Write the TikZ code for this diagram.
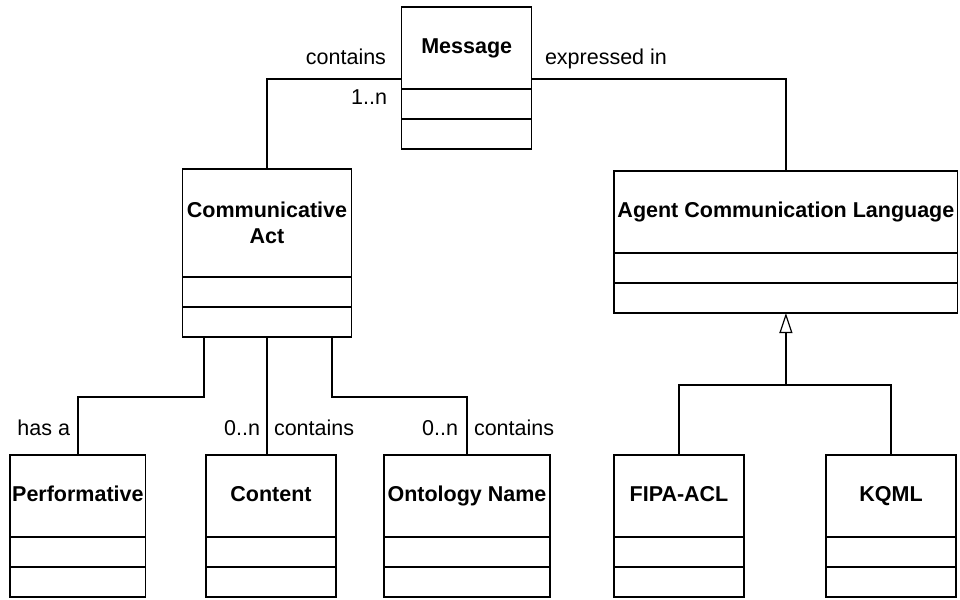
\documentclass[tikz,border=0pt]{standalone}
\usepackage{fontspec}
\setmainfont{Liberation Sans}
\usetikzlibrary{arrows.meta}
\newcommand{\diagfont}{\fontsize{21.5}{26}\selectfont}
\tikzset{
  hdr/.style={draw, line width=1.2pt, inner sep=0pt, outer sep=0pt, font=\diagfont\bfseries, align=center, minimum height=82pt},
  oneline/.style={text height=15.5pt, text depth=4.5pt},
  cmp/.style={draw, line width=1.2pt, inner sep=0pt, outer sep=0pt, minimum height=30pt, anchor=north},
  lbl/.style={inner sep=0pt, outer sep=0pt, font=\diagfont},
  conn/.style={line width=1.2pt},
  genarrow/.style={line width=1.2pt, -{Triangle[open, length=20pt, width=13pt]}},
}
\begin{document}
\begin{tikzpicture}[x=1pt, y=-1pt]
\useasboundingbox (0,0) rectangle (960,599);

% Message
\node[hdr, oneline, minimum width=130pt] (msg) at (466.7,48) {Message};
\node[cmp, minimum width=130pt] (msg1) at (msg.south) {};
\node[cmp, minimum width=130pt] (msg2) at (msg1.south) {};

% Communicative Act
\node[hdr, minimum width=169.4pt, minimum height=108pt] (ca) at (267,223) {Communicative\\Act};
\node[cmp, minimum width=169.4pt] (ca1) at (ca.south) {};
\node[cmp, minimum width=169.4pt] (ca2) at (ca1.south) {};

% Agent Communication Language
\node[hdr, oneline, minimum width=343.7pt] (acl) at (785.9,212) {Agent Communication Language};
\node[cmp, minimum width=343.7pt] (acl1) at (acl.south) {};
\node[cmp, minimum width=343.7pt] (acl2) at (acl1.south) {};

% Bottom row
\node[hdr, oneline, minimum width=135.7pt] (perf) at (77.9,496) {Performative};
\node[cmp, minimum width=135.7pt] (perf1) at (perf.south) {};
\node[cmp, minimum width=135.7pt] (perf2) at (perf1.south) {};

\node[hdr, oneline, minimum width=130pt] (cont) at (271,496) {Content};
\node[cmp, minimum width=130pt] (cont1) at (cont.south) {};
\node[cmp, minimum width=130pt] (cont2) at (cont1.south) {};

\node[hdr, oneline, minimum width=166pt] (ont) at (467,496) {Ontology Name};
\node[cmp, minimum width=166pt] (ont1) at (ont.south) {};
\node[cmp, minimum width=166pt] (ont2) at (ont1.south) {};

\node[hdr, oneline, minimum width=130pt] (fipa) at (679,496) {FIPA-ACL};
\node[cmp, minimum width=130pt] (fipa1) at (fipa.south) {};
\node[cmp, minimum width=130pt] (fipa2) at (fipa1.south) {};

\node[hdr, oneline, minimum width=130pt] (kqml) at (891,496) {KQML};
\node[cmp, minimum width=130pt] (kqml1) at (kqml.south) {};
\node[cmp, minimum width=130pt] (kqml2) at (kqml1.south) {};

% Connectors
\draw[conn] ([yshift=-31pt]msg.west) -| (ca.north);
\draw[conn] ([yshift=-31pt]msg.east) -| (acl.north);

\draw[conn] ([xshift=-63pt]ca2.south) -- ++(0,60) -| (perf.north);
\draw[conn] (ca2.south) -- (ca2.south |- cont.north);
\draw[conn] ([xshift=65pt]ca2.south) -- ++(0,60) -| (ont.north);

\coordinate (gj) at ([yshift=-72pt]acl2.south);
\draw[conn] (fipa.north) |- (gj) -| (kqml.north);
\draw[genarrow] (gj) -- (acl2.south);

% Labels
\node[lbl, anchor=base east] (l1) at (386,65) {contains};
\node[lbl, anchor=base east] (l2) at (387,105) {1..n};
\node[lbl, anchor=base west] (l3) at (545,65) {expressed in};
\node[lbl, anchor=base east] (l4) at (70,435) {has a};
\node[lbl, anchor=base east] (l5) at (260,435) {0..n};
\node[lbl, anchor=base west] (l6) at (274,435) {contains};
\node[lbl, anchor=base east] (l7) at (458,435) {0..n};
\node[lbl, anchor=base west] (l8) at (474,435) {contains};
\end{tikzpicture}
\end{document}
